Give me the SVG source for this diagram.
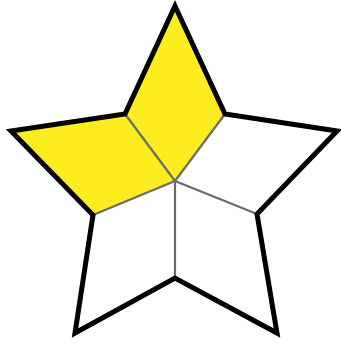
<svg xmlns="http://www.w3.org/2000/svg" width="341" height="344" viewBox="0 0 341 344">
<style>
.fill{fill:#fdec20;stroke:none}
.inner{stroke:#6b6b6b;stroke-width:2.2;fill:none}
.outline{fill:none;stroke:#000;stroke-width:5;stroke-linejoin:miter;stroke-miterlimit:10}
</style>
<g id="top-kite"><polygon class="fill" points="175,181 125,114 175,6 225,114"/></g>
<g id="left-kite"><polygon class="fill" points="175,181 125,114 11,131 93,215"/></g>
<g id="connectors">
<line class="inner" x1="175" y1="181" x2="125" y2="114"/>
<line class="inner" x1="175" y1="181" x2="225" y2="114"/>
<line class="inner" x1="175" y1="181" x2="93" y2="215"/>
<line class="inner" x1="175" y1="181" x2="257" y2="214"/>
<line class="inner" x1="175" y1="181" x2="175" y2="278"/>
</g>
<g id="star"><polygon class="outline" points="175,6 225,114 337,131 257,214 277,333 175,278 75,333 93,215 11,131 125,114"/></g>
</svg>
